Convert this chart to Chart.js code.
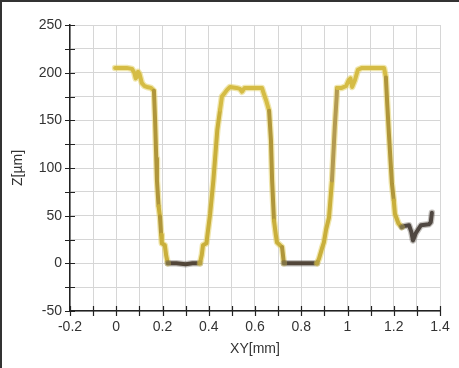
<!DOCTYPE html>
<html>
<head>
<meta charset="utf-8">
<script src="https://cdn.jsdelivr.net/npm/chart.js@4.4.0/dist/chart.umd.min.js"></script>
<style>
  body { margin: 0; background: #fff; }
  canvas { display: block; }
</style>
</head>
<body>
<canvas id="profile" width="459" height="368"></canvas>
<script>
// profile: XY in mm, Z in µm
var profileX = [-0.005, 0.02, 0.045, 0.068, 0.078, 0.084, 0.09, 0.094, 0.1, 0.111, 0.122, 0.133, 0.15, 0.163,
  0.168, 0.173, 0.176, 0.183, 0.189, 0.194, 0.197, 0.21, 0.216, 0.223, 0.26, 0.3, 0.33, 0.362,
  0.37, 0.375, 0.39, 0.395, 0.406, 0.42, 0.437, 0.449, 0.457, 0.47, 0.479, 0.492, 0.52, 0.535, 0.544, 0.555, 0.6, 0.63,
  0.638, 0.648, 0.661, 0.669, 0.674, 0.682, 0.69, 0.695, 0.717, 0.725, 0.78, 0.83, 0.868,
  0.877, 0.89, 0.898, 0.907, 0.92, 0.933, 0.945, 0.953, 0.955, 0.975, 0.994, 1.005, 1.013, 1.02, 1.032, 1.045, 1.063, 1.1, 1.158,
  1.166, 1.171, 1.179, 1.192, 1.2, 1.205, 1.22, 1.235, 1.244, 1.266, 1.276, 1.283, 1.296, 1.318, 1.352, 1.36, 1.365];
var profileZ = [205, 205, 205, 204, 200, 194, 196, 201, 199, 189, 186, 185, 184, 181,
  150, 110, 87, 60, 49, 30, 21, 19, 8, 0, 0, -1, 0, 0,
  9, 19, 21, 31, 52, 87, 140, 161, 175, 179, 182, 185, 184, 183, 180, 184, 184, 184,
  178, 171, 160, 129, 87, 45, 30, 22, 17, 0, 0, 0, 0,
  5, 16, 22, 35, 48, 87, 143, 174, 184, 184, 186, 192, 194, 185, 192, 203, 205, 205, 205,
  195, 171, 136, 84, 66, 52, 42, 38, 39, 40, 33, 24, 32, 40, 41, 43, 53];

var xMin = -0.2, xMax = 1.4, xStep = 0.1;
var zMin = -50, zMax = 250, zStep = 25;

var points = [];
for (var i = 0; i < profileX.length; i++) {
  points.push({x: profileX[i], y: profileZ[i]});
}

function isDark(a, b) {
  return a.x >= 1.235 || (a.y <= 2 && b.y <= 2);
}

function segColor(ctx) {
  var a = ctx.p0.parsed, b = ctx.p1.parsed;
  if (a.x >= 1.235) return '#4b4240';
  if (a.y <= 2 && b.y <= 2) return '#4f4134';
  if (b.y < a.y - 15) return '#7e5f1a';
  if (a.x > 0.93 && a.x < 0.955) return '#866848';
  if (a.y > 150 && b.y > 150) return '#c9ab30';
  return '#b0901c';
}

function glowColor(ctx) {
  var a = ctx.p0.parsed, b = ctx.p1.parsed;
  if (isDark(a, b)) return 'rgba(90, 80, 70, 0.35)';
  return 'rgba(225, 205, 90, 0.5)';
}

var frameAndTicks = {
  id: 'frameAndTicks',
  beforeDraw: function(chart) {
    var c = chart.ctx;
    c.save();
    c.fillStyle = '#fff';
    c.fillRect(0, 0, chart.width, chart.height);
    c.restore();
  },
  afterDraw: function(chart) {
    var c = chart.ctx;
    var area = chart.chartArea;
    var sx = chart.scales.x, sy = chart.scales.y;
    c.save();
    c.strokeStyle = '#222';
    c.lineWidth = 1.2;
    c.beginPath();
    sy.ticks.forEach(function(t) {
      var py = Math.round(sy.getPixelForValue(t.value)) + 0.5;
      c.moveTo(area.left - 5, py);
      c.lineTo(area.left + 5, py);
    });
    sx.ticks.forEach(function(t) {
      var px = Math.round(sx.getPixelForValue(t.value)) + 0.5;
      c.moveTo(px, area.bottom - 5);
      c.lineTo(px, area.bottom + 5);
    });
    c.stroke();
    // outer frame, top and left only
    c.strokeStyle = '#333';
    c.lineWidth = 2;
    c.beginPath();
    c.moveTo(1, chart.height);
    c.lineTo(1, 1);
    c.lineTo(chart.width, 1);
    c.stroke();
    c.restore();
  }
};

var font = {family: '"Liberation Sans", Arial, sans-serif', size: 14};

new Chart(document.getElementById('profile'), {
  type: 'line',
  data: {
    datasets: [
      {
        data: points,
        borderWidth: 6.5,
        pointRadius: 0,
        tension: 0,
        borderCapStyle: 'round',
        borderJoinStyle: 'round',
        segment: { borderColor: glowColor }
      },
      {
        data: points,
        borderWidth: 4,
        pointRadius: 0,
        tension: 0,
        borderCapStyle: 'round',
        borderJoinStyle: 'round',
        segment: { borderColor: segColor }
      }
    ]
  },
  options: {
    responsive: false,
    animation: false,
    layout: { padding: { left: 0, right: 19, top: 25, bottom: 0 } },
    plugins: { legend: { display: false }, tooltip: { enabled: false } },
    scales: {
      x: {
        type: 'linear',
        min: xMin, max: xMax,
        afterFit: function(s) { s.height = 57; },
        grid: { color: '#d6d6d6', lineWidth: 1, drawTicks: false },
        border: { color: '#222', width: 1.5 },
        ticks: {
          stepSize: xStep, autoSkip: false, maxRotation: 0, padding: 8,
          color: '#333', font: font,
          callback: function(v) {
            var n = Math.round(v * 10);
            return n % 2 === 0 ? String(n / 10) : '';
          }
        },
        title: { display: true, text: 'XY[mm]', color: '#333', font: font, padding: { top: 0, bottom: 10 } }
      },
      y: {
        min: zMin, max: zMax,
        afterFit: function(s) { s.width = 70; },
        grid: { color: '#d6d6d6', lineWidth: 1, drawTicks: false },
        border: { color: '#222', width: 1.5 },
        ticks: {
          stepSize: zStep, autoSkip: false, padding: 8,
          color: '#333', font: font,
          callback: function(v) { return v % 50 === 0 ? String(v) : ''; }
        },
        title: { display: true, text: 'Z[µm]', color: '#333', font: font, padding: { top: 10, bottom: 0 } }
      }
    }
  },
  plugins: [frameAndTicks]
});
</script>
</body>
</html>
